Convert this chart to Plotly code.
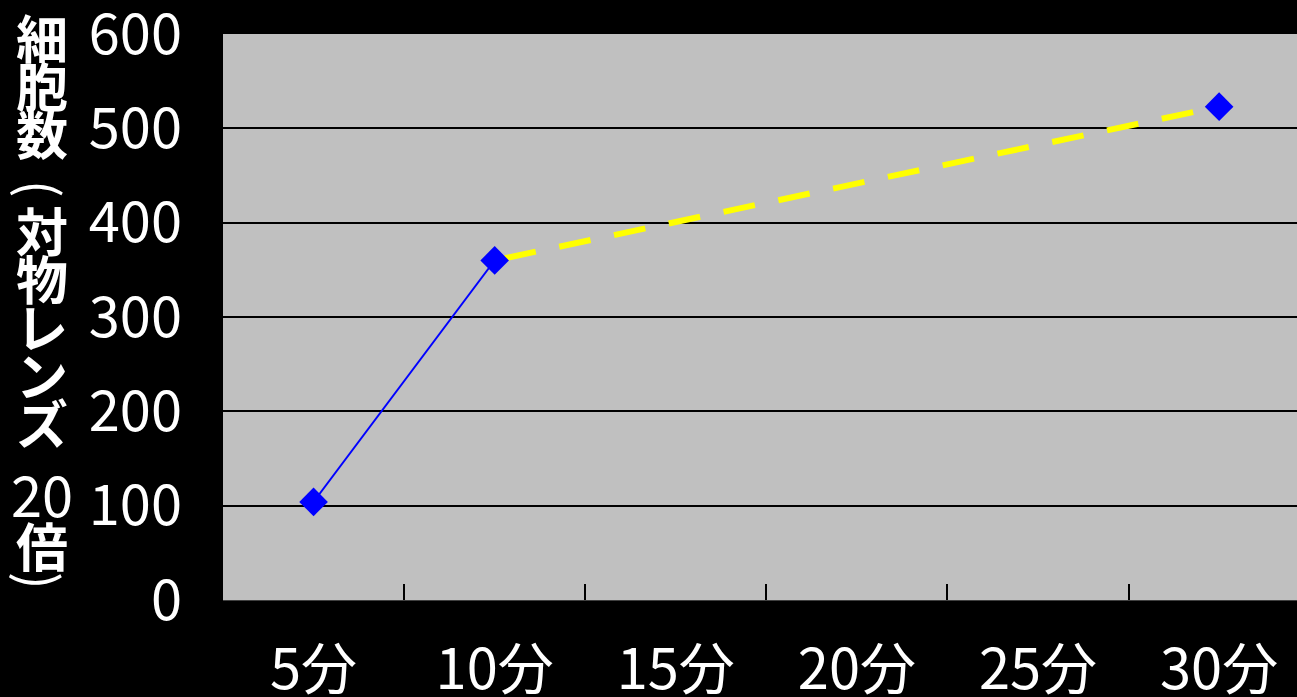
import plotly.graph_objects as go

# Category axis and observed cell counts (None = not measured)
categories = ["5分", "10分", "15分", "20分", "25分", "30分"]
cell_counts = [104, 360, None, None, None, 523]
y_tick_values = [0, 100, 200, 300, 400, 500, 600]

# Vertical axis title "細胞数(対物レンズ20倍)", split into stacked groups
title_head = ["細", "胞", "数"]
title_body = ["対", "物", "レ", "ン", "ズ"]
title_mag = "20"
title_tail = "倍"

measured_x = [c for c, v in zip(categories, cell_counts) if v is not None]
measured_y = [v for v in cell_counts if v is not None]

W, H = 1297, 697
M_L, M_R, M_T, M_B = 223, 0, 34, 97

FONT = "Noto Sans CJK JP, sans-serif"
TICK_SIZE = 56
TITLE_SIZE = 52
TITLE_PITCH = 48  # vertical distance between stacked title glyphs

# dash pattern with a short leading gap so the first dash clears the marker
dash_pattern = "0px,10px," + ",".join(["32px,24px"] * 14)

fig = go.Figure()

# projected trend (dashed yellow) from 10分 to 30分
fig.add_trace(go.Scatter(
    x=measured_x[1:], y=measured_y[1:], mode="lines",
    line=dict(color="#FFFF00", width=6, dash=dash_pattern),
    hoverinfo="skip",
))
# measured segment 5分 -> 10分
fig.add_trace(go.Scatter(
    x=measured_x[:2], y=measured_y[:2], mode="lines",
    line=dict(color="#0000FF", width=1.8),
    hoverinfo="skip",
))
# measured points
fig.add_trace(go.Scatter(
    x=measured_x, y=measured_y, mode="markers",
    marker=dict(symbol="diamond", size=22, color="#0000FF", line=dict(width=0)),
))

plot_w = W - M_L - M_R
plot_h = H - M_T - M_B


def px_x(px):
    return (px - M_L) / plot_w


def px_y(py):
    return (H - M_B - py) / plot_h


def stacked(glyphs):
    # one glyph per line; line pitch follows the base font size (1.3 em)
    return "<br>".join(
        f'<span style="font-size:{TITLE_SIZE}px">{g}</span>' for g in glyphs
    )


TITLE_X = px_x(42)
base_size = TITLE_PITCH / 1.3
title_font = dict(family=FONT, size=base_size, color="white", weight="bold")

# 細胞数
fig.add_annotation(
    x=TITLE_X, y=px_y(37 + TITLE_PITCH * (len(title_head) - 1) / 2),
    xref="paper", yref="paper", text=stacked(title_head), showarrow=False,
    xanchor="center", yanchor="middle", font=title_font,
)
# opening bracket, turned for vertical writing
fig.add_annotation(
    x=TITLE_X, y=px_y(189), xref="paper", yref="paper", text="(",
    textangle=90, showarrow=False, xanchor="center", yanchor="middle",
    font=dict(family=FONT, size=TITLE_SIZE, color="white"),
)
# 対物レンズ
fig.add_annotation(
    x=TITLE_X, y=px_y(229 + TITLE_PITCH * (len(title_body) - 1) / 2),
    xref="paper", yref="paper", text=stacked(title_body), showarrow=False,
    xanchor="center", yanchor="middle", font=title_font,
)
# 20 (set horizontally)
fig.add_annotation(
    x=TITLE_X, y=px_y(492), xref="paper", yref="paper", text=title_mag,
    showarrow=False, xanchor="center", yanchor="middle",
    font=dict(family=FONT, size=TICK_SIZE, color="white"),
)
# 倍
fig.add_annotation(
    x=TITLE_X, y=px_y(544), xref="paper", yref="paper", text=title_tail,
    showarrow=False, xanchor="center", yanchor="middle",
    font=dict(family=FONT, size=TITLE_SIZE, color="white", weight="bold"),
)
# closing bracket
fig.add_annotation(
    x=TITLE_X, y=px_y(581), xref="paper", yref="paper", text=")",
    textangle=90, showarrow=False, xanchor="center", yanchor="middle",
    font=dict(family=FONT, size=TITLE_SIZE, color="white"),
)

fig.update_layout(
    width=W, height=H,
    margin=dict(l=M_L, r=M_R, t=M_T, b=M_B, pad=0, autoexpand=False),
    paper_bgcolor="#000000", plot_bgcolor="#C0C0C0",
    showlegend=False,
    xaxis=dict(
        type="category", categoryorder="array", categoryarray=categories,
        range=[-0.5, 5.43], tickson="boundaries",
        ticks="inside", ticklen=16, tickwidth=1.5, tickcolor="#000000",
        showgrid=False, showline=True, linecolor="#404040", linewidth=1,
        zeroline=False, automargin=False, ticklabeloverflow="allow",
        tickfont=dict(family=FONT, size=TICK_SIZE, color="white"),
        ticklabelstandoff=21,
    ),
    yaxis=dict(
        range=[0, 600], tickvals=y_tick_values,
        ticks="", showgrid=True, gridcolor="#000000", gridwidth=1.5,
        zeroline=False, showline=False, automargin=False,
        ticklabeloverflow="allow",
        tickfont=dict(family=FONT, size=TICK_SIZE, color="white"),
        ticklabelstandoff=40,
    ),
)

fig.write_html("out.html")
